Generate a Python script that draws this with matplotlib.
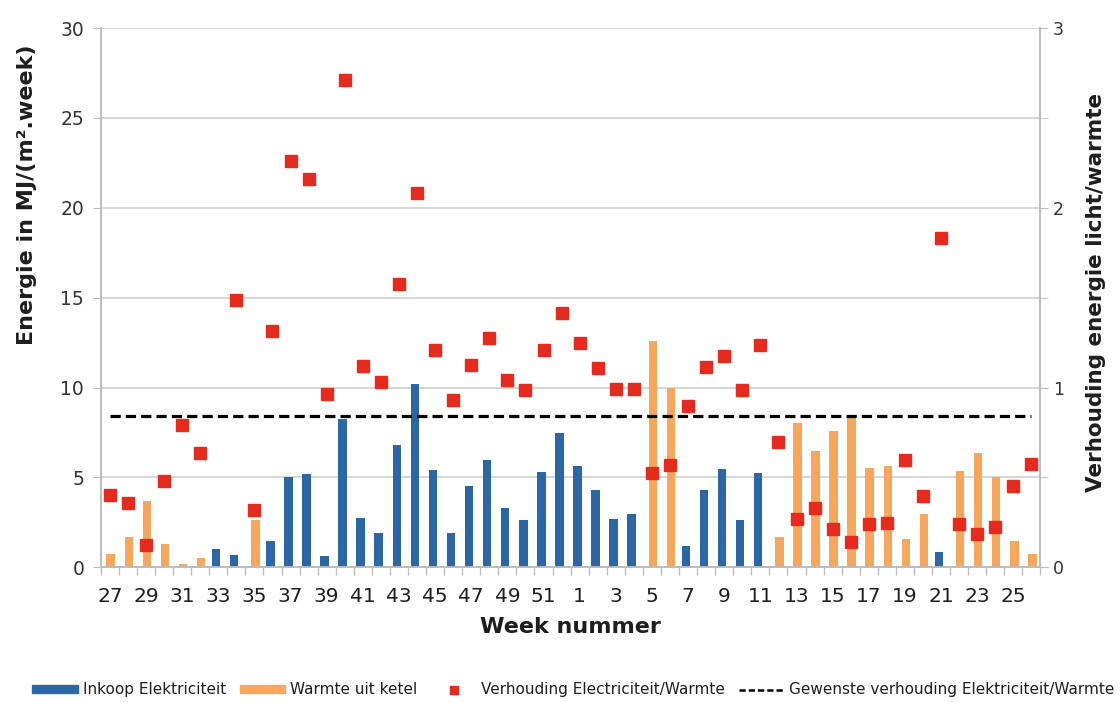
import numpy as np
import matplotlib.pyplot as plt
from matplotlib.patches import Patch
from matplotlib.lines import Line2D
from matplotlib.ticker import MultipleLocator, FixedLocator

# ==================== DATA ====================
weeks = list(range(27, 53)) + list(range(1, 27))

# Inkoop Elektriciteit, MJ/(m2.week); 0 = no bar
elektriciteit = [
    0, 0, 0, 0, 0, 0, 1.0, 0.7, 0, 1.45, 5.0, 5.2, 0.6, 8.25, 2.75, 1.9,
    6.8, 10.2, 5.4, 1.9, 4.5, 5.95, 3.3, 2.6, 5.3, 7.45,
    5.65, 4.3, 2.7, 2.95, 0, 0, 1.2, 4.3, 5.45, 2.6, 5.25, 0, 0, 0, 0, 0,
    0, 0, 0, 0, 0.85, 0, 0, 0, 0, 0,
]

# Warmte uit ketel, MJ/(m2.week)
warmte = [
    0.72, 1.7, 3.7, 1.3, 0.2, 0.5, 0, 0, 2.6, 0, 0, 0, 0, 0, 0, 0,
    0, 0, 0, 0, 0, 0, 0, 0, 0, 0,
    0, 0, 0, 0, 12.6, 9.95, 0, 0, 0, 0, 0, 1.7, 8.05, 6.45, 7.6, 8.45,
    5.5, 5.65, 1.55, 2.95, 0, 5.35, 6.35, 5.0, 1.45, 0.72,
]

# Verhouding Electriciteit/Warmte (right axis); nan = no point
verhouding = [
    0.40, 0.36, 0.126, 0.48, 0.79, 0.636, np.nan, 1.486, 0.32, 1.313,
    2.263, 2.16, 0.963, 2.71, 1.122, 1.03, 1.577, 2.08, 1.211, 0.933,
    1.128, 1.278, 1.044, 0.985, 1.208, 1.412,
    1.248, 1.106, 0.989, 0.994, 0.527, 0.568, 0.896, 1.115, 1.176, 0.985,
    1.235, 0.697, 0.271, 0.332, 0.21, 0.141, 0.239, 0.247, 0.595, 0.397,
    1.83, 0.239, 0.184, 0.224, 0.451, 0.577,
]

gewenst = 0.84

# ==================== STYLE ====================
BLUE = "#2b67a5"
ORANGE = "#f8a65c"
RED = "#e62b1e"
GRID = "#d3d3d3"
SPINE = "#bdbdbd"
TXT = "#1e1e1e"

x = np.arange(len(weeks))
el = np.array(elektriciteit, dtype=float)
wa = np.array(warmte, dtype=float)

fig = plt.figure(figsize=(11.2, 7.02), dpi=100)
ax = fig.add_axes([0.090, 0.192, 0.839, 0.768])
axr = ax.twinx()

BAR_W = 0.47
mask_el = el > 0
mask_wa = wa > 0
ax.bar(x[mask_el] - 0.12, el[mask_el], width=BAR_W, color=BLUE, zorder=3)
ax.bar(x[mask_wa] + 0.05, wa[mask_wa], width=BAR_W, color=ORANGE, zorder=3)

axr.plot(x, verhouding, linestyle="none", marker="s", markersize=9,
         color=RED, zorder=5)
axr.plot(x, [gewenst] * len(x), color="black", linestyle=(0, (3.2, 1.6)),
         linewidth=2.3, zorder=4)

# axes limits / ticks
ax.set_xlim(-0.5, len(x) - 0.5)
ax.set_ylim(0, 30)
axr.set_ylim(0, 3)

ax.set_yticks(np.arange(0, 31, 5))
ax.yaxis.grid(True, color=GRID, linewidth=1.3, zorder=0)
ax.set_axisbelow(True)

ax.set_xticks(x[::2])
ax.set_xticklabels([str(w) for w in weeks[::2]])
ax.xaxis.set_minor_locator(FixedLocator(np.arange(-0.5, len(x), 1.0)))
ax.tick_params(axis="x", which="major", length=0, labelsize=14.5, pad=14,
               labelcolor=TXT)
ax.tick_params(axis="x", which="minor", length=6, color=SPINE, width=1)
ax.tick_params(axis="y", length=6, color=SPINE, labelsize=13.5,
               labelcolor="#333333", pad=6)

axr.set_yticks([0, 1, 2, 3])
axr.yaxis.set_minor_locator(MultipleLocator(0.5))
axr.tick_params(axis="y", which="both", length=6, color=SPINE, labelsize=12.5,
                labelcolor="#333333", pad=3)

for a in (ax, axr):
    a.spines["top"].set_visible(False)
    for s in ("left", "right", "bottom"):
        a.spines[s].set_color(SPINE)
        a.spines[s].set_linewidth(1.3)

ax.set_xlabel("Week nummer", fontsize=16, fontweight="bold", labelpad=8,
              color=TXT)
ax.set_ylabel("Energie in MJ/(m².week)", fontsize=16, fontweight="bold",
              labelpad=10, color=TXT)
ax.yaxis.set_label_coords(-0.068, 0.69)
axr.set_ylabel("Verhouding energie licht/warmte", fontsize=15.5,
               fontweight="bold", labelpad=12, color=TXT)
axr.yaxis.set_label_coords(1.048, 0.51)

# ==================== LEGEND ====================
handles = [
    Patch(color=BLUE),
    Patch(color=ORANGE),
    Line2D([], [], linestyle="none", marker="s", markersize=6, color=RED),
    Line2D([], [], color="black", linestyle=(0, (2.5, 1.2)), linewidth=1.8),
]
labels = [
    "Inkoop Elektriciteit",
    "Warmte uit ketel",
    "Verhouding Electriciteit/Warmte",
    "Gewenste verhouding Elektriciteit/Warmte",
]
fig.legend(handles, labels, loc="lower center", bbox_to_anchor=(0.512, -0.013),
           ncol=4, frameon=False, fontsize=11, handlelength=3.0,
           handleheight=0.45, columnspacing=0.9, handletextpad=0.3,
           labelcolor=TXT)

fig.savefig("out.png", dpi=100)
